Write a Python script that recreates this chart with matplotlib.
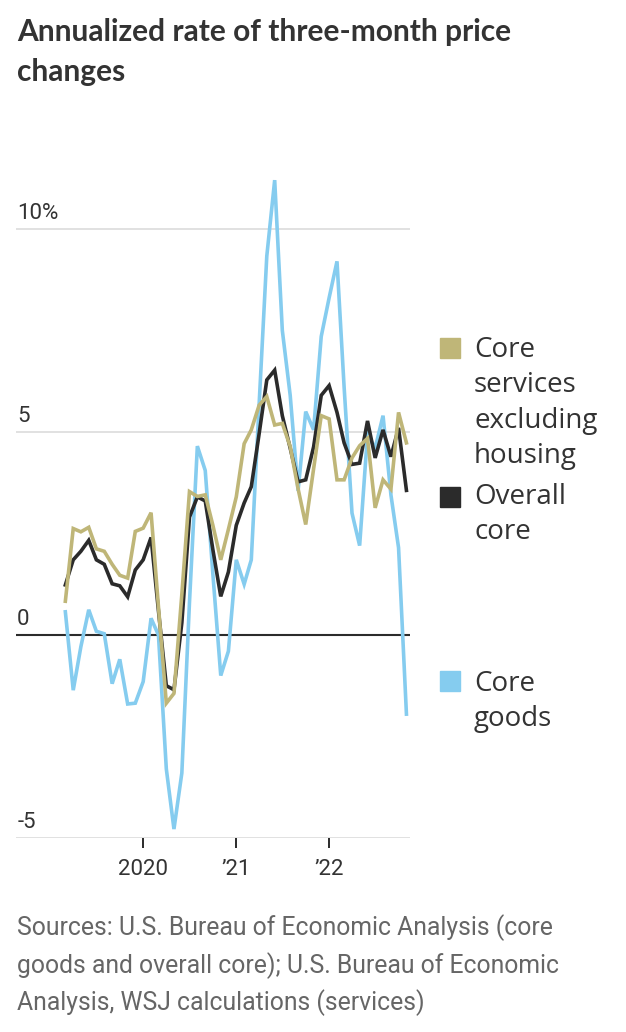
import matplotlib
matplotlib.use("Agg")
import matplotlib.pyplot as plt
import matplotlib.transforms as mtransforms
import pandas as pd

# monthly data, Mar 2019 - Nov 2022 (annualized 3-month % change)
months = pd.date_range("2019-03-01", periods=45, freq="MS")

core_goods = [0.57, -1.36, -0.29, 0.62, 0.09, 0.03, -1.2, -0.6, -1.7, -1.68,
              -1.15, 0.41, 0.0, -3.3, -4.78, -3.4, 0.8, 4.65, 4.05, 1.5,
              -1.0, -0.4, 1.85, 1.25, 1.85, 5.7, 9.33, 11.2, 7.5, 5.9,
              3.55, 5.5, 5.05, 7.35, 8.3, 9.2, 6.1, 3.0, 2.2, 4.95,
              4.6, 5.4, 3.45, 2.15, -1.95]
overall_core = [1.23, 1.85, 2.06, 2.33, 1.85, 1.74, 1.26, 1.21, 0.94, 1.6,
                1.85, 2.4, 0.6, -1.25, -1.35, 0.3, 2.9, 3.4, 3.3, 2.1,
                0.95, 1.55, 2.7, 3.25, 3.65, 4.96, 6.28, 6.52, 5.4, 4.6,
                3.77, 3.82, 4.63, 5.9, 6.14, 5.48, 4.73, 4.2, 4.23, 5.27,
                4.36, 5.05, 4.39, 5.1, 3.56]
core_services = [0.83, 2.62, 2.54, 2.65, 2.12, 2.06, 1.74, 1.47, 1.40, 2.55,
                 2.63, 3.01, 0.7, -1.68, -1.44, 1.0, 3.53, 3.41, 3.45, 2.7,
                 1.85, 2.6, 3.4, 4.71, 5.05, 5.66, 5.87, 5.17, 5.21, 4.64,
                 3.6, 2.72, 4.09, 5.4, 5.32, 3.82, 3.82, 4.36, 4.66, 4.84,
                 3.13, 3.82, 3.59, 5.48, 4.73]

ytick_vals = [10, 5, 0, -5]
ytick_labels = ["10%", "5", "0", "-5"]
xtick_dates = pd.to_datetime(["2020-01-01", "2021-01-01", "2022-01-01"])
xtick_labels = ["2020", "\u201921", "\u201922"]

legend_labels = ["Core\nservices\nexcluding\nhousing", "Overall\ncore", "Core\ngoods"]

c_gold = "#bfb678"
c_dark = "#2b2b2b"
c_blue = "#85ccef"
c_text = "#333333"

fig = plt.figure(figsize=(6.26, 10.32), dpi=100)
ax = fig.add_axes([16/626, 1 - 838/1032, 394/626, 666/1032])

ax.set_ylim(-5, 11.4)
ax.set_xlim(pd.Timestamp("2018-08-19"), pd.Timestamp("2022-11-15"))

# grid lines
for v in [10, 5, -5]:
    ax.axhline(v, color="#dedede", lw=1.3, zorder=1)
ax.axhline(0, color=c_dark, lw=1.5, zorder=2)

ax.plot(months, core_goods, color=c_blue, lw=2.6, zorder=3, solid_joinstyle="miter")
ax.plot(months, overall_core, color=c_dark, lw=2.6, zorder=4, solid_joinstyle="miter")
ax.plot(months, core_services, color=c_gold, lw=2.6, zorder=5, solid_joinstyle="miter")

for s in ax.spines.values():
    s.set_visible(False)
ax.set_yticks([])
ax.set_xticks(xtick_dates)
ax.set_xticklabels(xtick_labels, fontsize=16, color=c_text, family="Roboto")
ax.tick_params(axis="x", length=7, width=1.4, color=c_dark, pad=8)

# y labels sit just above their grid lines
trans = mtransforms.blended_transform_factory(ax.transAxes, ax.transData)
trans = trans + mtransforms.ScaledTranslation(0, 5/100, fig.dpi_scale_trans)
for v, lab in zip(ytick_vals, ytick_labels):
    ax.text(0.003, v, lab, transform=trans, fontsize=16, color=c_text,
            family="Roboto", ha="left", va="bottom")

# legend: square + label, placed by hand like the original
leg_items = [(c_gold, 348, 336, legend_labels[0]),
             (c_dark, 497, 483, legend_labels[1]),
             (c_blue, 681, 670, legend_labels[2])]
for col, ypx, ytxt, lab in leg_items:
    fig.patches.append(plt.Rectangle((440/626, 1 - (ypx + 10)/1032), 20/626, 20/1032,
                                     transform=fig.transFigure, color=col))
    fig.text(474/626, 1 - ytxt/1032, lab, fontsize=20, color=c_text,
             family="Open Sans", ha="left", va="top", linespacing=1.35)

fig.text(17/626, 1 - 18/1032, "Annualized rate of three-month price\nchanges",
         fontsize=21.5, fontweight="bold", color=c_text, family="Lato",
         ha="left", va="top", linespacing=1.52)

fig.text(17/626, 1 - 914/1032,
         "Sources: U.S. Bureau of Economic Analysis (core\n"
         "goods and overall core); U.S. Bureau of Economic\n"
         "Analysis, WSJ calculations (services)",
         fontsize=17.8, color="#666666", family="Roboto", ha="left", va="top",
         linespacing=1.52)

fig.savefig("out.png", dpi=100)
